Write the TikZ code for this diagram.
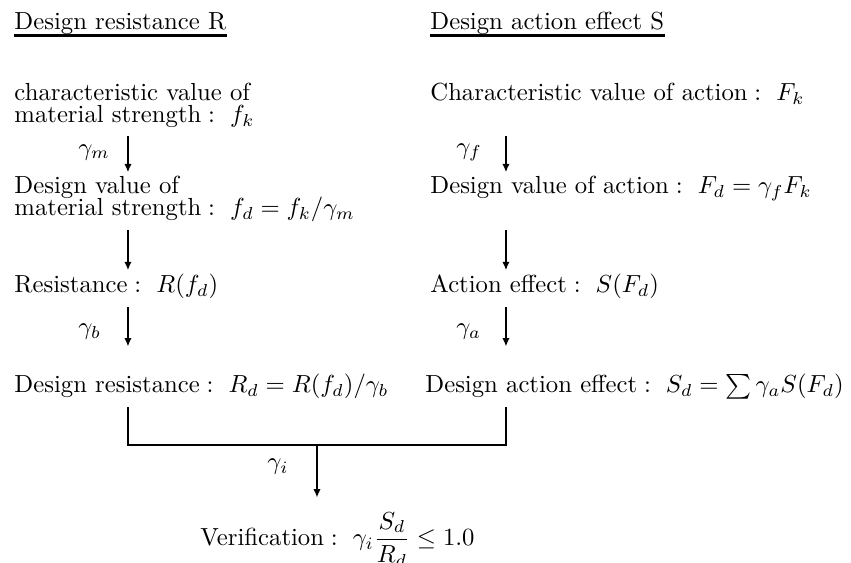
\documentclass[tikz,border=0pt]{standalone}
\usepackage{amsmath,amssymb}
\usetikzlibrary{arrows.meta}

\begin{document}
\begin{tikzpicture}
        \tikzset{txt/.style={anchor=base west, inner xsep=0pt, inner ysep=1.5pt, align=left},
                 conn/.style={line width=0.9pt, shorten <=1.5pt},
                 arr/.style={conn, -{Latex[length=3.4pt, width=3pt]}},
                 lab/.style={anchor=west, inner sep=0pt, xshift=-20.5pt},
                 uline/.style={line width=1.1pt}}
        \useasboundingbox (0,0) rectangle (12.11,-8.011);

        % column lines and joint
        \coordinate (L) at (1.821,0);
        \coordinate (R) at (7.200,0);
        \coordinate (jn) at (4.511,-6.332);

        % headings
        \node[txt, inner sep=0pt] (hR) at (0.199,-0.413) {Design resistance R};
        \node[txt, inner sep=0pt] (hS) at (6.118,-0.413) {Design action effect S};
        \draw[uline] ([yshift=-2.5pt]hR.base west) -- ([yshift=-2.5pt]hR.base east);
        \draw[uline] ([yshift=-2.5pt]hS.base west) -- ([yshift=-2.5pt]hS.base east);

        % resistance side (two-line nodes sit on their last line)
        \node[txt] (chk) at (0.199,-1.750) {characteristic value of\\[-3.1pt]$\text{material strength}:\ f_k$};
        \node[txt] (dvm) at (0.199,-3.073) {Design value of\\[-3.1pt]$\text{material strength}:\ f_d=f_k/\gamma_m$};
        \node[txt] (res) at (0.199,-4.169) {$\text{Resistance}:\ R(f_d)$};
        \node[txt] (dr) at (0.199,-5.592) {$\text{Design resistance}:\ R_d=R(f_d)/\gamma_b$};

        % action side
        \node[txt] (chkS) at (6.118,-1.430) {$\text{Characteristic value of action}:\ F_k$};
        \node[txt] (dva) at (6.118,-2.760) {$\text{Design value of action}:\ F_d=\gamma_f F_k$};
        \node[txt] (eff) at (6.118,-4.169) {$\text{Action effect}:\ S(F_d)$};
        \node[txt] (de) at (6.047,-5.592) {$\text{Design action effect}:\ S_d=\sum\gamma_a S(F_d)$};

        \node[txt] (ver) at (2.846,-7.769) {$\text{Verification}:\ \gamma_i\dfrac{S_d}{R_d}\le 1.0$};

        \draw[arr] (chk.south -| L) -- (dvm.north -| L) node[lab, midway] {$\gamma_m$};
        \draw[arr] (dvm.south -| L) -- (res.north -| L);
        \draw[arr, shorten >=9.6pt] (res.south -| L) -- (dr.north -| L) node[lab, pos=.42] {$\gamma_b$};

        \draw[arr] (chk.south -| R) -- (dva.north -| R) node[lab, midway] {$\gamma_f$};
        \draw[arr] (dvm.south -| R) -- (eff.north -| R);
        \draw[arr, shorten >=9.6pt] (eff.south -| R) -- (de.north -| R) node[lab, pos=.42] {$\gamma_a$};

        % joining both sides
        \draw[conn, shorten >=1.5pt] (dr.south -| L) |- (jn) -| (de.south -| R);
        \draw[arr, shorten <=0pt, shorten >=4.3pt] (jn) -- (ver.north -| jn) node[lab, pos=.35] {$\gamma_i$};
\end{tikzpicture}
\end{document}
